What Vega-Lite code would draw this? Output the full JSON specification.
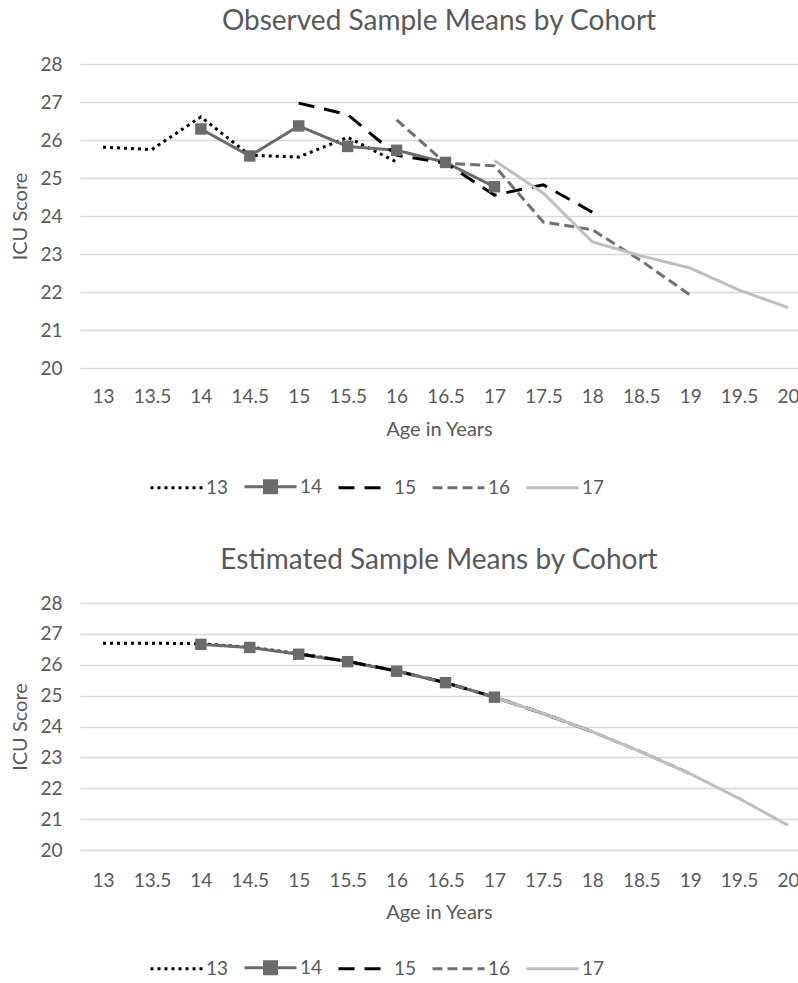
{
  "$schema": "https://vega.github.io/schema/vega-lite/v6.json",
  "background": "white",
  "padding": {"left": 10, "top": 8, "right": 0, "bottom": 0},
  "spacing": 48,
  "datasets": {
    "observed": [
      {"cohort": "13", "age": 13, "score": 25.81},
      {"cohort": "13", "age": 13.5, "score": 25.75},
      {"cohort": "13", "age": 14, "score": 26.61},
      {"cohort": "13", "age": 14.5, "score": 25.6},
      {"cohort": "13", "age": 15, "score": 25.55},
      {"cohort": "13", "age": 15.5, "score": 26.07},
      {"cohort": "13", "age": 16, "score": 25.42},
      {"cohort": "14", "age": 14, "score": 26.29},
      {"cohort": "14", "age": 14.5, "score": 25.58},
      {"cohort": "14", "age": 15, "score": 26.37},
      {"cohort": "14", "age": 15.5, "score": 25.83},
      {"cohort": "14", "age": 16, "score": 25.73},
      {"cohort": "14", "age": 16.5, "score": 25.41},
      {"cohort": "14", "age": 17, "score": 24.77},
      {"cohort": "15", "age": 15, "score": 26.97},
      {"cohort": "15", "age": 15.5, "score": 26.67},
      {"cohort": "15", "age": 16, "score": 25.6},
      {"cohort": "15", "age": 16.5, "score": 25.39},
      {"cohort": "15", "age": 17, "score": 24.55},
      {"cohort": "15", "age": 17.5, "score": 24.82},
      {"cohort": "15", "age": 18, "score": 24.1},
      {"cohort": "16", "age": 16, "score": 26.53},
      {"cohort": "16", "age": 16.5, "score": 25.39},
      {"cohort": "16", "age": 17, "score": 25.32},
      {"cohort": "16", "age": 17.5, "score": 23.84},
      {"cohort": "16", "age": 18, "score": 23.64},
      {"cohort": "16", "age": 18.5, "score": 22.82},
      {"cohort": "16", "age": 19, "score": 21.92},
      {"cohort": "17", "age": 17, "score": 25.46},
      {"cohort": "17", "age": 17.5, "score": 24.6},
      {"cohort": "17", "age": 18, "score": 23.32},
      {"cohort": "17", "age": 18.5, "score": 22.95},
      {"cohort": "17", "age": 19, "score": 22.63},
      {"cohort": "17", "age": 19.5, "score": 22.05},
      {"cohort": "17", "age": 20, "score": 21.59}
    ],
    "estimated": [
      {"cohort": "13", "age": 13, "score": 26.7},
      {"cohort": "13", "age": 13.5, "score": 26.7},
      {"cohort": "13", "age": 14, "score": 26.68},
      {"cohort": "13", "age": 14.5, "score": 26.57},
      {"cohort": "13", "age": 15, "score": 26.36},
      {"cohort": "13", "age": 15.5, "score": 26.11},
      {"cohort": "13", "age": 16, "score": 25.8},
      {"cohort": "14", "age": 14, "score": 26.66},
      {"cohort": "14", "age": 14.5, "score": 26.56},
      {"cohort": "14", "age": 15, "score": 26.34},
      {"cohort": "14", "age": 15.5, "score": 26.1},
      {"cohort": "14", "age": 16, "score": 25.79},
      {"cohort": "14", "age": 16.5, "score": 25.42},
      {"cohort": "14", "age": 17, "score": 24.95},
      {"cohort": "15", "age": 15, "score": 26.35},
      {"cohort": "15", "age": 15.5, "score": 26.11},
      {"cohort": "15", "age": 16, "score": 25.8},
      {"cohort": "15", "age": 16.5, "score": 25.42},
      {"cohort": "15", "age": 17, "score": 24.95},
      {"cohort": "15", "age": 17.5, "score": 24.42},
      {"cohort": "15", "age": 18, "score": 23.83},
      {"cohort": "16", "age": 16, "score": 25.8},
      {"cohort": "16", "age": 16.5, "score": 25.42},
      {"cohort": "16", "age": 17, "score": 24.95},
      {"cohort": "16", "age": 17.5, "score": 24.42},
      {"cohort": "16", "age": 18, "score": 23.83},
      {"cohort": "16", "age": 18.5, "score": 23.18},
      {"cohort": "16", "age": 19, "score": 22.47},
      {"cohort": "17", "age": 17, "score": 24.95},
      {"cohort": "17", "age": 17.5, "score": 24.42},
      {"cohort": "17", "age": 18, "score": 23.83},
      {"cohort": "17", "age": 18.5, "score": 23.18},
      {"cohort": "17", "age": 19, "score": 22.47},
      {"cohort": "17", "age": 19.5, "score": 21.67},
      {"cohort": "17", "age": 20, "score": 20.8}
    ]
  },
  "config": {
    "view": {"stroke": null},
    "font": "Lato",
    "title": {"font": "Lato", "fontSize": 28, "fontWeight": "normal", "color": "#595959"},
    "axis": {
      "labelFont": "Lato", "labelFontSize": 19, "labelColor": "#595959",
      "titleFont": "Lato", "titleFontSize": 20, "titleFontWeight": "normal", "titleColor": "#595959",
      "ticks": false, "tickSize": 0, "domain": false, "labelOverlap": false,
      "gridColor": "#d9d9d9", "gridWidth": 1.3
    },
    "legend": {
      "orient": "none", "direction": "horizontal", "symbolType": "stroke",
      "symbolSize": 2704, "symbolStrokeWidth": 3,
      "labelFont": "Lato", "labelFontSize": 19, "labelColor": "#595959",
      "labelOffset": 2, "columnPadding": 9
    }
  },
  "resolve": {
    "scale": {"color": "independent", "strokeDash": "independent", "shape": "independent"},
    "legend": {"color": "independent", "strokeDash": "independent", "shape": "independent"}
  },
  "vconcat": [
    {
      "title": {"text": "Observed Sample Means by Cohort", "offset": 19},
      "width": 718,
      "height": 304,
      "data": {"name": "observed"},
      "encoding": {
        "x": {"field": "age", "type": "quantitative",
          "scale": {"domain": [12.765, 20.102], "nice": false, "zero": false},
          "axis": {"values": [13, 13.5, 14, 14.5, 15, 15.5, 16, 16.5, 17, 17.5, 18, 18.5, 19, 19.5, 20], "tickCount": 20, "format": "~g", "grid": false, "title": "Age in Years", "labelPadding": 19, "titlePadding": 13}},
        "y": {"field": "score", "type": "quantitative",
          "scale": {"domain": [20, 28], "nice": false, "zero": false},
          "axis": {"values": [20, 21, 22, 23, 24, 25, 26, 27, 28], "tickCount": 12, "format": "d", "labelOverlap": false, "grid": true, "title": "ICU Score", "labelPadding": 18, "titlePadding": 9}}
      },
      "layer": [
        {
          "mark": {"type": "line", "strokeWidth": 3},
          "encoding": {
            "color": {"field": "cohort", "type": "nominal",
              "scale": {"domain": ["13", "14", "15", "16", "17"], "range": ["#000000", "#6b6b6b", "#000000", "#707070", "#bfbfbf"]},
              "legend": {"title": null, "legendX": 69, "legendY": 395}},
            "strokeDash": {"field": "cohort", "type": "nominal",
              "scale": {"domain": ["13", "14", "15", "16", "17"], "range": [[3, 4], [1, 0], [16, 10], [10, 5], [1, 0]]},
              "legend": {"title": null, "legendX": 69, "legendY": 395}}
          }
        },
        {
          "transform": [{"filter": "datum.cohort == '14'"}],
          "mark": {"type": "point", "shape": "square", "filled": true, "size": 130, "color": "#6b6b6b", "opacity": 1},
          "encoding": {}
        },
        {
          "transform": [{"filter": "false"}],
          "mark": {"type": "point", "filled": true, "strokeWidth": 3, "color": "#6b6b6b", "opacity": 1},
          "encoding": {
            "shape": {"field": "cohort", "type": "nominal",
              "scale": {"domain": ["13", "14", "15", "16", "17"], "range": ["stroke", "M-1,0H1M-0.23,-0.23H0.23V0.23H-0.23Z", "stroke", "stroke", "stroke"]},
              "legend": {"title": null, "legendX": 69, "legendY": 395}}
          }
        }
      ]
    },
    {
      "title": {"text": "Estimated Sample Means by Cohort", "offset": 19},
      "width": 718,
      "height": 247,
      "data": {"name": "estimated"},
      "encoding": {
        "x": {"field": "age", "type": "quantitative",
          "scale": {"domain": [12.765, 20.102], "nice": false, "zero": false},
          "axis": {"values": [13, 13.5, 14, 14.5, 15, 15.5, 16, 16.5, 17, 17.5, 18, 18.5, 19, 19.5, 20], "tickCount": 20, "format": "~g", "grid": false, "title": "Age in Years", "labelPadding": 21, "titlePadding": 12}},
        "y": {"field": "score", "type": "quantitative",
          "scale": {"domain": [20, 28], "nice": false, "zero": false},
          "axis": {"values": [20, 21, 22, 23, 24, 25, 26, 27, 28], "tickCount": 12, "format": "d", "labelOverlap": false, "grid": true, "title": "ICU Score", "labelPadding": 18, "titlePadding": 9}}
      },
      "layer": [
        {
          "mark": {"type": "line", "strokeWidth": 3},
          "encoding": {
            "color": {"field": "cohort", "type": "nominal",
              "scale": {"domain": ["13", "14", "15", "16", "17"], "range": ["#000000", "#6b6b6b", "#000000", "#707070", "#bfbfbf"]},
              "legend": {"title": null, "legendX": 69, "legendY": 337}},
            "strokeDash": {"field": "cohort", "type": "nominal",
              "scale": {"domain": ["13", "14", "15", "16", "17"], "range": [[3, 4], [1, 0], [16, 10], [10, 5], [1, 0]]},
              "legend": {"title": null, "legendX": 69, "legendY": 337}}
          }
        },
        {
          "transform": [{"filter": "datum.cohort == '14'"}],
          "mark": {"type": "point", "shape": "square", "filled": true, "size": 130, "color": "#6b6b6b", "opacity": 1},
          "encoding": {}
        },
        {
          "transform": [{"filter": "false"}],
          "mark": {"type": "point", "filled": true, "strokeWidth": 3, "color": "#6b6b6b", "opacity": 1},
          "encoding": {
            "shape": {"field": "cohort", "type": "nominal",
              "scale": {"domain": ["13", "14", "15", "16", "17"], "range": ["stroke", "M-1,0H1M-0.23,-0.23H0.23V0.23H-0.23Z", "stroke", "stroke", "stroke"]},
              "legend": {"title": null, "legendX": 69, "legendY": 337}}
          }
        }
      ]
    }
  ]
}
